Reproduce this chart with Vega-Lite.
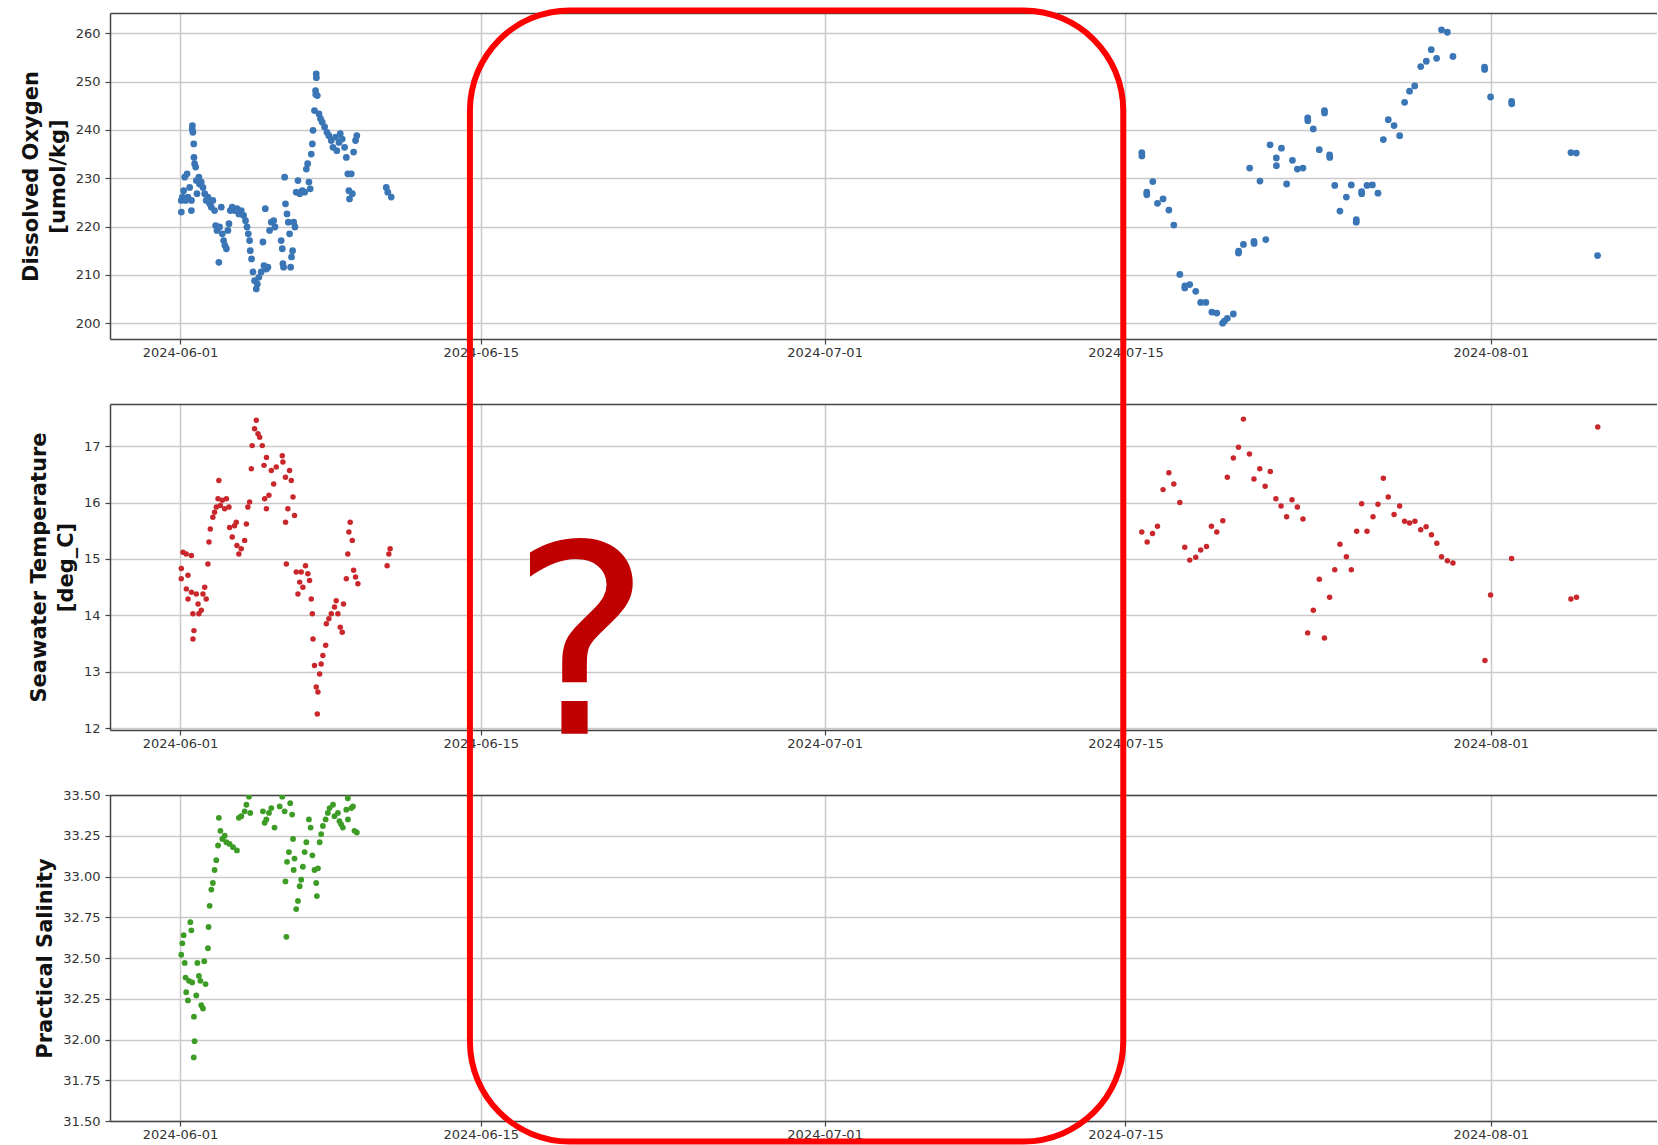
{
  "$schema": "https://vega.github.io/schema/vega-lite/v6.json",
  "background": "white",
  "padding": {"left": 20, "top": 7, "right": 0, "bottom": 0},
  "bounds": "flush",
  "spacing": 65,
  "config": {
    "font": "DejaVu Sans",
    "view": {"stroke": null},
    "axis": {
      "labelFont": "DejaVu Sans", "labelFontSize": 13, "labelColor": "#333333",
      "titleFont": "DejaVu Sans", "titleFontSize": 21, "titleFontWeight": "bold", "titleColor": "#111111",
      "gridColor": "#c9c9c9", "gridWidth": 1.5,
      "domainColor": "#444444", "domainWidth": 1.5,
      "tickColor": "#444444", "tickWidth": 1.2, "tickSize": 5
    },
    "axisX": {"labelPadding": 2, "labelFlush": false, "labelOverlap": false},
    "axisY": {"labelPadding": 5, "titlePadding": 7, "titleLineHeight": 27, "labelOverlap": false}
  },
  "datasets": {
    "oxygen": [
      {"t":"2024-06-01T01:26","v":225.4},{"t":"2024-06-01T01:30","v":223.0},{"t":"2024-06-01T02:38","v":226.1},{"t":"2024-06-01T04:05","v":227.4},
      {"t":"2024-06-01T05:17","v":230.2},{"t":"2024-06-01T06:14","v":225.4},{"t":"2024-06-01T07:55","v":230.9},{"t":"2024-06-01T08:53","v":226.1},
      {"t":"2024-06-01T10:48","v":228.1},{"t":"2024-06-01T12:43","v":223.3},{"t":"2024-06-01T12:50","v":225.4},{"t":"2024-06-01T13:41","v":240.2},
      {"t":"2024-06-01T13:50","v":240.9},{"t":"2024-06-01T14:24","v":239.5},{"t":"2024-06-01T15:22","v":237.1},{"t":"2024-06-01T15:36","v":234.3},
      {"t":"2024-06-01T16:19","v":233.0},{"t":"2024-06-01T17:31","v":232.3},{"t":"2024-06-01T18:14","v":229.5},{"t":"2024-06-01T18:58","v":226.8},
      {"t":"2024-06-01T21:07","v":230.2},{"t":"2024-06-01T21:50","v":228.8},{"t":"2024-06-01T23:46","v":229.2},{"t":"2024-06-02T01:41","v":228.1},
      {"t":"2024-06-02T03:36","v":226.8},{"t":"2024-06-02T05:17","v":225.4},{"t":"2024-06-02T07:12","v":226.1},{"t":"2024-06-02T09:07","v":224.7},
      {"t":"2024-06-02T11:02","v":224.0},{"t":"2024-06-02T12:43","v":225.4},{"t":"2024-06-02T14:38","v":223.3},{"t":"2024-06-02T15:50","v":220.2},
      {"t":"2024-06-02T17:17","v":219.2},{"t":"2024-06-02T19:26","v":212.6},{"t":"2024-06-02T20:10","v":219.9},{"t":"2024-06-02T22:05","v":224.0},
      {"t":"2024-06-02T23:17","v":218.5},{"t":"2024-06-03T00:43","v":217.1},{"t":"2024-06-03T02:10","v":216.1},{"t":"2024-06-03T03:50","v":215.4},
      {"t":"2024-06-03T05:31","v":219.2},{"t":"2024-06-03T06:43","v":220.6},{"t":"2024-06-03T08:10","v":223.3},{"t":"2024-06-03T10:19","v":224.0},
      {"t":"2024-06-03T12:58","v":223.3},{"t":"2024-06-03T15:36","v":223.7},{"t":"2024-06-03T17:46","v":222.6},{"t":"2024-06-03T20:24","v":223.3},
      {"t":"2024-06-03T23:02","v":222.3},{"t":"2024-06-04T01:12","v":221.2},{"t":"2024-06-04T02:53","v":219.9},{"t":"2024-06-04T04:19","v":218.5},
      {"t":"2024-06-04T05:46","v":217.1},{"t":"2024-06-04T06:29","v":215.0},{"t":"2024-06-04T07:55","v":213.3},{"t":"2024-06-04T09:36","v":210.6},
      {"t":"2024-06-04T11:17","v":208.8},{"t":"2024-06-04T13:12","v":207.1},{"t":"2024-06-04T14:24","v":208.1},{"t":"2024-06-04T16:05","v":209.5},
      {"t":"2024-06-04T18:43","v":210.6},{"t":"2024-06-04T20:38","v":216.8},{"t":"2024-06-04T21:50","v":211.9},{"t":"2024-06-04T23:17","v":223.7},
      {"t":"2024-06-05T00:29","v":211.2},{"t":"2024-06-05T02:10","v":211.6},{"t":"2024-06-05T04:05","v":219.2},{"t":"2024-06-05T06:00","v":220.9},
      {"t":"2024-06-05T08:38","v":221.2},{"t":"2024-06-05T10:05","v":219.9},{"t":"2024-06-05T17:02","v":217.1},{"t":"2024-06-05T18:14","v":215.4},
      {"t":"2024-06-05T18:58","v":212.3},{"t":"2024-06-05T19:41","v":211.6},{"t":"2024-06-05T20:53","v":230.2},{"t":"2024-06-05T21:50","v":224.7},
      {"t":"2024-06-05T23:31","v":222.6},{"t":"2024-06-06T00:58","v":220.9},{"t":"2024-06-06T02:24","v":218.5},{"t":"2024-06-06T03:36","v":211.6},
      {"t":"2024-06-06T04:34","v":213.7},{"t":"2024-06-06T05:46","v":215.0},{"t":"2024-06-06T06:58","v":220.9},{"t":"2024-06-06T08:24","v":219.9},
      {"t":"2024-06-06T09:50","v":227.1},{"t":"2024-06-06T11:46","v":229.5},{"t":"2024-06-06T13:41","v":226.8},{"t":"2024-06-06T16:34","v":227.4},
      {"t":"2024-06-06T19:12","v":227.1},{"t":"2024-06-06T21:07","v":231.9},{"t":"2024-06-06T22:34","v":233.0},{"t":"2024-06-07T00:00","v":229.2},
      {"t":"2024-06-07T01:26","v":227.8},{"t":"2024-06-07T02:38","v":235.0},{"t":"2024-06-07T03:50","v":237.1},{"t":"2024-06-07T04:34","v":239.9},
      {"t":"2024-06-07T06:14","v":244.0},{"t":"2024-06-07T07:26","v":248.1},{"t":"2024-06-07T07:40","v":247.3},{"t":"2024-06-07T08:10","v":251.6},
      {"t":"2024-06-07T08:20","v":250.8},{"t":"2024-06-07T09:22","v":247.1},{"t":"2024-06-07T11:17","v":243.3},{"t":"2024-06-07T12:58","v":242.3},
      {"t":"2024-06-07T14:53","v":241.6},{"t":"2024-06-07T17:31","v":240.6},{"t":"2024-06-07T20:10","v":239.5},{"t":"2024-06-07T22:19","v":238.8},
      {"t":"2024-06-08T00:58","v":237.8},{"t":"2024-06-08T02:53","v":236.4},{"t":"2024-06-08T05:46","v":238.5},{"t":"2024-06-08T07:12","v":235.7},
      {"t":"2024-06-08T09:36","v":237.4},{"t":"2024-06-08T11:02","v":239.2},{"t":"2024-06-08T13:12","v":238.1},{"t":"2024-06-08T15:50","v":236.4},
      {"t":"2024-06-08T17:46","v":234.3},{"t":"2024-06-08T19:26","v":230.9},{"t":"2024-06-08T20:38","v":227.4},{"t":"2024-06-08T21:22","v":225.7},
      {"t":"2024-06-08T23:17","v":230.9},{"t":"2024-06-09T00:29","v":226.8},{"t":"2024-06-09T01:55","v":235.4},{"t":"2024-06-09T04:05","v":237.8},
      {"t":"2024-06-09T05:31","v":238.8},{"t":"2024-06-10T14:24","v":228.1},{"t":"2024-06-10T16:05","v":227.1},{"t":"2024-06-10T19:55","v":226.1},
      {"t":"2024-07-15T18:14","v":235.3},{"t":"2024-07-15T18:20","v":234.6},{"t":"2024-07-15T23:46","v":227.1},{"t":"2024-07-15T23:50","v":226.6},
      {"t":"2024-07-16T06:29","v":229.3},{"t":"2024-07-16T11:46","v":224.8},{"t":"2024-07-16T18:00","v":225.7},{"t":"2024-07-17T00:29","v":223.4},
      {"t":"2024-07-17T06:00","v":220.3},{"t":"2024-07-17T12:43","v":210.1},{"t":"2024-07-17T18:14","v":207.3},{"t":"2024-07-17T18:20","v":207.7},
      {"t":"2024-07-17T23:46","v":208.0},{"t":"2024-07-18T06:29","v":206.6},{"t":"2024-07-18T12:00","v":204.3},{"t":"2024-07-18T17:46","v":204.3},
      {"t":"2024-07-19T00:29","v":202.3},{"t":"2024-07-19T06:00","v":202.1},{"t":"2024-07-19T12:29","v":200.0},{"t":"2024-07-19T14:24","v":200.4},
      {"t":"2024-07-19T17:46","v":201.0},{"t":"2024-07-20T00:29","v":201.9},{"t":"2024-07-20T06:14","v":214.5},{"t":"2024-07-20T06:20","v":214.9},
      {"t":"2024-07-20T11:46","v":216.3},{"t":"2024-07-20T18:43","v":232.1},{"t":"2024-07-20T23:31","v":216.9},{"t":"2024-07-20T23:40","v":216.5},
      {"t":"2024-07-21T06:14","v":229.4},{"t":"2024-07-21T12:43","v":217.3},{"t":"2024-07-21T17:31","v":236.9},{"t":"2024-07-22T00:29","v":234.2},
      {"t":"2024-07-22T00:35","v":232.6},{"t":"2024-07-22T06:14","v":236.2},{"t":"2024-07-22T12:00","v":228.8},{"t":"2024-07-22T18:29","v":233.7},
      {"t":"2024-07-23T00:00","v":231.9},{"t":"2024-07-23T06:14","v":232.1},{"t":"2024-07-23T11:31","v":242.5},{"t":"2024-07-23T11:40","v":241.9},
      {"t":"2024-07-23T17:46","v":240.2},{"t":"2024-07-24T00:29","v":235.9},{"t":"2024-07-24T06:14","v":244.0},{"t":"2024-07-24T06:20","v":243.5},
      {"t":"2024-07-24T12:00","v":234.8},{"t":"2024-07-24T12:10","v":234.3},{"t":"2024-07-24T17:46","v":228.5},{"t":"2024-07-24T23:31","v":223.2},
      {"t":"2024-07-25T06:43","v":226.1},{"t":"2024-07-25T12:14","v":228.6},{"t":"2024-07-25T17:46","v":220.9},{"t":"2024-07-25T17:50","v":221.4},
      {"t":"2024-07-25T23:46","v":227.2},{"t":"2024-07-25T23:50","v":226.8},{"t":"2024-07-26T05:46","v":228.5},{"t":"2024-07-26T11:46","v":228.6},
      {"t":"2024-07-26T18:00","v":226.9},{"t":"2024-07-27T00:00","v":238.0},{"t":"2024-07-27T05:31","v":242.1},{"t":"2024-07-27T12:00","v":240.9},
      {"t":"2024-07-27T18:14","v":238.8},{"t":"2024-07-27T23:46","v":245.7},{"t":"2024-07-28T05:17","v":248.0},{"t":"2024-07-28T11:02","v":249.1},
      {"t":"2024-07-28T17:46","v":253.1},{"t":"2024-07-29T00:00","v":254.2},{"t":"2024-07-29T05:31","v":256.6},{"t":"2024-07-29T11:31","v":254.8},
      {"t":"2024-07-29T17:02","v":260.7},{"t":"2024-07-29T23:31","v":260.2},{"t":"2024-07-30T05:46","v":255.2},{"t":"2024-07-31T17:02","v":253.0},
      {"t":"2024-07-31T17:10","v":252.5},{"t":"2024-07-31T23:46","v":246.8},{"t":"2024-08-01T23:17","v":245.9},{"t":"2024-08-01T23:25","v":245.4},
      {"t":"2024-08-04T17:31","v":235.3},{"t":"2024-08-04T23:31","v":235.2},{"t":"2024-08-05T23:17","v":214.0}
    ],
    "temperature": [
      {"t":"2024-06-01T01:26","v":14.65},{"t":"2024-06-01T01:30","v":14.83},{"t":"2024-06-01T03:22","v":15.12},{"t":"2024-06-01T06:58","v":15.09},
      {"t":"2024-06-01T08:53","v":14.71},{"t":"2024-06-01T07:05","v":14.47},{"t":"2024-06-01T09:00","v":14.29},{"t":"2024-06-01T12:43","v":15.06},
      {"t":"2024-06-01T12:50","v":14.41},{"t":"2024-06-01T14:24","v":14.03},{"t":"2024-06-01T15:36","v":13.73},{"t":"2024-06-01T14:30","v":13.58},
      {"t":"2024-06-01T18:14","v":14.38},{"t":"2024-06-01T20:10","v":14.20},{"t":"2024-06-01T21:07","v":14.03},{"t":"2024-06-01T23:46","v":14.09},
      {"t":"2024-06-02T01:41","v":14.38},{"t":"2024-06-02T03:36","v":14.50},{"t":"2024-06-02T05:17","v":14.29},{"t":"2024-06-02T07:12","v":14.91},
      {"t":"2024-06-02T08:24","v":15.30},{"t":"2024-06-02T09:50","v":15.53},{"t":"2024-06-02T12:43","v":15.74},{"t":"2024-06-02T14:38","v":15.83},
      {"t":"2024-06-02T16:34","v":15.92},{"t":"2024-06-02T18:29","v":16.07},{"t":"2024-06-02T19:26","v":16.39},{"t":"2024-06-02T21:07","v":15.95},
      {"t":"2024-06-02T23:17","v":16.04},{"t":"2024-06-03T01:55","v":15.89},{"t":"2024-06-03T03:50","v":16.07},{"t":"2024-06-03T06:43","v":15.92},
      {"t":"2024-06-03T07:26","v":15.56},{"t":"2024-06-03T10:19","v":15.39},{"t":"2024-06-03T12:58","v":15.59},{"t":"2024-06-03T14:53","v":15.65},
      {"t":"2024-06-03T15:36","v":15.24},{"t":"2024-06-03T17:46","v":15.09},{"t":"2024-06-03T20:24","v":15.18},{"t":"2024-06-04T00:14","v":15.33},
      {"t":"2024-06-04T02:10","v":15.62},{"t":"2024-06-04T03:50","v":15.92},{"t":"2024-06-04T05:46","v":16.01},{"t":"2024-06-04T07:41","v":16.60},
      {"t":"2024-06-04T08:38","v":17.01},{"t":"2024-06-04T11:17","v":17.31},{"t":"2024-06-04T13:12","v":17.46},{"t":"2024-06-04T15:07","v":17.22},
      {"t":"2024-06-04T17:02","v":17.16},{"t":"2024-06-04T19:55","v":17.01},{"t":"2024-06-04T21:50","v":16.66},{"t":"2024-06-04T22:34","v":16.07},
      {"t":"2024-06-05T00:29","v":15.89},{"t":"2024-06-05T00:35","v":16.80},{"t":"2024-06-05T03:22","v":16.13},{"t":"2024-06-05T06:00","v":16.57},
      {"t":"2024-06-05T08:38","v":16.33},{"t":"2024-06-05T11:31","v":16.63},{"t":"2024-06-05T18:14","v":16.83},{"t":"2024-06-05T18:58","v":16.72},
      {"t":"2024-06-05T21:50","v":16.45},{"t":"2024-06-05T21:55","v":15.65},{"t":"2024-06-05T22:48","v":14.91},{"t":"2024-06-06T00:29","v":15.89},
      {"t":"2024-06-06T02:24","v":16.57},{"t":"2024-06-06T04:19","v":16.39},{"t":"2024-06-06T06:14","v":16.10},{"t":"2024-06-06T07:55","v":15.77},
      {"t":"2024-06-06T09:50","v":14.77},{"t":"2024-06-06T11:46","v":14.38},{"t":"2024-06-06T13:41","v":14.59},{"t":"2024-06-06T15:22","v":14.77},
      {"t":"2024-06-06T17:17","v":14.50},{"t":"2024-06-06T20:10","v":14.88},{"t":"2024-06-06T22:48","v":14.74},{"t":"2024-06-07T00:43","v":14.62},
      {"t":"2024-06-07T02:38","v":14.29},{"t":"2024-06-07T03:50","v":14.03},{"t":"2024-06-07T04:34","v":13.58},{"t":"2024-06-07T06:14","v":13.11},
      {"t":"2024-06-07T08:10","v":12.73},{"t":"2024-06-07T09:22","v":12.25},{"t":"2024-06-07T10:05","v":12.64},{"t":"2024-06-07T12:00","v":12.96},
      {"t":"2024-06-07T13:41","v":13.14},{"t":"2024-06-07T15:36","v":13.29},{"t":"2024-06-07T18:43","v":13.47},{"t":"2024-06-07T19:26","v":13.85},
      {"t":"2024-06-07T22:19","v":13.94},{"t":"2024-06-08T00:58","v":14.03},{"t":"2024-06-08T04:34","v":14.15},{"t":"2024-06-08T06:29","v":14.26},
      {"t":"2024-06-08T08:24","v":14.03},{"t":"2024-06-08T11:02","v":13.79},{"t":"2024-06-08T13:12","v":13.70},{"t":"2024-06-08T14:38","v":14.20},
      {"t":"2024-06-08T17:46","v":14.65},{"t":"2024-06-08T19:26","v":15.09},{"t":"2024-06-08T20:38","v":15.48},{"t":"2024-06-08T22:05","v":15.65},
      {"t":"2024-06-09T00:29","v":15.33},{"t":"2024-06-09T01:55","v":14.80},{"t":"2024-06-09T04:05","v":14.68},{"t":"2024-06-09T06:43","v":14.56},
      {"t":"2024-06-10T15:22","v":14.88},{"t":"2024-06-10T17:17","v":15.09},{"t":"2024-06-10T18:43","v":15.18},
      {"t":"2024-07-15T18:14","v":15.48},{"t":"2024-07-16T00:14","v":15.30},{"t":"2024-07-16T06:14","v":15.45},{"t":"2024-07-16T11:46","v":15.58},
      {"t":"2024-07-16T18:00","v":16.23},{"t":"2024-07-17T00:29","v":16.53},{"t":"2024-07-17T06:00","v":16.33},{"t":"2024-07-17T12:43","v":16.00},
      {"t":"2024-07-17T18:14","v":15.21},{"t":"2024-07-17T23:46","v":14.98},{"t":"2024-07-18T06:29","v":15.03},{"t":"2024-07-18T12:00","v":15.16},
      {"t":"2024-07-18T18:29","v":15.22},{"t":"2024-07-19T00:00","v":15.58},{"t":"2024-07-19T06:00","v":15.48},{"t":"2024-07-19T12:43","v":15.68},
      {"t":"2024-07-19T17:46","v":16.45},{"t":"2024-07-20T00:29","v":16.79},{"t":"2024-07-20T06:14","v":16.98},{"t":"2024-07-20T11:46","v":17.48},
      {"t":"2024-07-20T18:29","v":16.86},{"t":"2024-07-20T23:31","v":16.42},{"t":"2024-07-21T06:00","v":16.60},{"t":"2024-07-21T12:00","v":16.29},
      {"t":"2024-07-21T17:46","v":16.55},{"t":"2024-07-22T00:00","v":16.07},{"t":"2024-07-22T05:46","v":15.94},{"t":"2024-07-22T12:00","v":15.75},
      {"t":"2024-07-22T18:00","v":16.05},{"t":"2024-07-23T00:00","v":15.92},{"t":"2024-07-23T06:14","v":15.71},{"t":"2024-07-23T11:31","v":13.69},
      {"t":"2024-07-23T17:46","v":14.09},{"t":"2024-07-24T00:29","v":14.64},{"t":"2024-07-24T06:14","v":13.60},{"t":"2024-07-24T12:00","v":14.32},
      {"t":"2024-07-24T17:46","v":14.81},{"t":"2024-07-24T23:31","v":15.26},{"t":"2024-07-25T06:43","v":15.04},{"t":"2024-07-25T12:14","v":14.81},
      {"t":"2024-07-25T18:14","v":15.49},{"t":"2024-07-25T23:46","v":15.98},{"t":"2024-07-26T05:46","v":15.49},{"t":"2024-07-26T12:29","v":15.75},
      {"t":"2024-07-26T18:00","v":15.97},{"t":"2024-07-27T00:00","v":16.43},{"t":"2024-07-27T05:31","v":16.10},{"t":"2024-07-27T12:00","v":15.79},
      {"t":"2024-07-27T18:14","v":15.94},{"t":"2024-07-27T23:46","v":15.67},{"t":"2024-07-28T05:17","v":15.64},{"t":"2024-07-28T11:17","v":15.67},
      {"t":"2024-07-28T17:46","v":15.52},{"t":"2024-07-28T23:46","v":15.57},{"t":"2024-07-29T05:46","v":15.43},{"t":"2024-07-29T11:46","v":15.28},
      {"t":"2024-07-29T17:02","v":15.04},{"t":"2024-07-29T23:31","v":14.97},{"t":"2024-07-30T05:46","v":14.93},{"t":"2024-07-31T17:31","v":13.20},
      {"t":"2024-07-31T23:46","v":14.36},{"t":"2024-08-01T23:17","v":15.01},{"t":"2024-08-04T17:31","v":14.29},{"t":"2024-08-04T23:46","v":14.32},
      {"t":"2024-08-05T23:31","v":17.34}
    ],
    "salinity": [
      {"t":"2024-06-01T01:26","v":32.52},{"t":"2024-06-01T02:38","v":32.59},{"t":"2024-06-01T04:05","v":32.64},{"t":"2024-06-01T05:17","v":32.47},
      {"t":"2024-06-01T06:14","v":32.38},{"t":"2024-06-01T06:58","v":32.29},{"t":"2024-06-01T08:53","v":32.24},{"t":"2024-06-01T10:05","v":32.36},
      {"t":"2024-06-01T11:31","v":32.72},{"t":"2024-06-01T12:43","v":32.67},{"t":"2024-06-01T13:41","v":32.35},{"t":"2024-06-01T15:36","v":32.14},
      {"t":"2024-06-01T16:19","v":31.99},{"t":"2024-06-01T15:22","v":31.89},{"t":"2024-06-01T18:14","v":32.27},{"t":"2024-06-01T19:26","v":32.47},
      {"t":"2024-06-01T21:07","v":32.39},{"t":"2024-06-01T22:48","v":32.36},{"t":"2024-06-01T23:46","v":32.21},{"t":"2024-06-02T01:41","v":32.19},
      {"t":"2024-06-02T03:07","v":32.48},{"t":"2024-06-02T04:34","v":32.34},{"t":"2024-06-02T07:12","v":32.56},{"t":"2024-06-02T07:55","v":32.69},
      {"t":"2024-06-02T09:07","v":32.82},{"t":"2024-06-02T11:02","v":32.92},{"t":"2024-06-02T12:43","v":32.96},{"t":"2024-06-02T14:38","v":33.04},
      {"t":"2024-06-02T16:34","v":33.10},{"t":"2024-06-02T18:29","v":33.19},{"t":"2024-06-02T19:26","v":33.36},{"t":"2024-06-02T21:07","v":33.28},
      {"t":"2024-06-02T23:17","v":33.23},{"t":"2024-06-03T01:55","v":33.25},{"t":"2024-06-03T03:50","v":33.21},{"t":"2024-06-03T07:26","v":33.20},
      {"t":"2024-06-03T11:17","v":33.18},{"t":"2024-06-03T15:36","v":33.16},{"t":"2024-06-03T17:46","v":33.36},{"t":"2024-06-03T20:24","v":33.37},
      {"t":"2024-06-04T00:14","v":33.40},{"t":"2024-06-04T02:10","v":33.44},{"t":"2024-06-04T05:02","v":33.49},{"t":"2024-06-04T06:29","v":33.39},
      {"t":"2024-06-04T20:38","v":33.40},{"t":"2024-06-04T22:34","v":33.33},{"t":"2024-06-05T00:29","v":33.35},{"t":"2024-06-05T03:22","v":33.39},
      {"t":"2024-06-05T06:00","v":33.42},{"t":"2024-06-05T09:36","v":33.30},{"t":"2024-06-05T15:22","v":33.43},{"t":"2024-06-05T18:14","v":33.49},
      {"t":"2024-06-05T20:53","v":33.40},{"t":"2024-06-05T21:50","v":32.97},{"t":"2024-06-05T22:48","v":32.63},{"t":"2024-06-05T23:31","v":33.09},
      {"t":"2024-06-06T01:41","v":33.15},{"t":"2024-06-06T03:07","v":33.45},{"t":"2024-06-06T05:17","v":33.38},{"t":"2024-06-06T06:14","v":33.23},
      {"t":"2024-06-06T06:58","v":33.04},{"t":"2024-06-06T07:55","v":33.11},{"t":"2024-06-06T09:50","v":32.80},{"t":"2024-06-06T11:46","v":32.85},
      {"t":"2024-06-06T13:41","v":32.94},{"t":"2024-06-06T15:22","v":32.98},{"t":"2024-06-06T17:17","v":33.06},{"t":"2024-06-06T19:12","v":33.15},
      {"t":"2024-06-06T21:07","v":33.21},{"t":"2024-06-07T00:00","v":33.35},{"t":"2024-06-07T01:55","v":33.30},{"t":"2024-06-07T03:50","v":33.13},
      {"t":"2024-06-07T06:14","v":33.04},{"t":"2024-06-07T08:10","v":32.96},{"t":"2024-06-07T08:53","v":32.88},{"t":"2024-06-07T10:05","v":33.05},
      {"t":"2024-06-07T12:00","v":33.21},{"t":"2024-06-07T13:41","v":33.26},{"t":"2024-06-07T15:36","v":33.31},{"t":"2024-06-07T18:43","v":33.35},
      {"t":"2024-06-07T21:07","v":33.39},{"t":"2024-06-07T23:02","v":33.42},{"t":"2024-06-08T02:53","v":33.44},{"t":"2024-06-08T04:34","v":33.37},
      {"t":"2024-06-08T08:24","v":33.39},{"t":"2024-06-08T10:05","v":33.34},{"t":"2024-06-08T12:00","v":33.32},{"t":"2024-06-08T13:55","v":33.30},
      {"t":"2024-06-08T17:46","v":33.41},{"t":"2024-06-08T19:26","v":33.48},{"t":"2024-06-08T19:35","v":33.35},{"t":"2024-06-08T23:17","v":33.42},
      {"t":"2024-06-09T01:12","v":33.43},{"t":"2024-06-09T02:53","v":33.28},{"t":"2024-06-09T05:31","v":33.27}
    ],
    "marker": [
      {"t":"2024-06-19T16:00","v":11.9,"label":"?"}
    ],
    "gap": [
      {"start":"2024-06-14T11:50","end":"2024-07-14T21:33","top":38.313,"bottom":31.374}
    ]
  },
  "vconcat": [
    {
      "width": 1547, "height": 326,
      "data": {"name": "oxygen"},
      "layer": [
        {
          "mark": {"type": "circle", "size": 46, "color": "#3a76b6", "opacity": 1, "clip": true},
          "encoding": {
            "x": {"field": "t", "type": "temporal",
              "scale": {"domain": [{"year":2024,"month":5,"date":28,"hours":17,"minutes":50},{"year":2024,"month":8,"date":8,"hours":17,"minutes":40}], "nice": false},
              "axis": {"title": null, "format": "%Y-%m-%d", "grid": true,
                "values": [{"year":2024,"month":6,"date":1},{"year":2024,"month":6,"date":15},{"year":2024,"month":7,"date":1},{"year":2024,"month":7,"date":15},{"year":2024,"month":8,"date":1}]}},
            "y": {"field": "v", "type": "quantitative",
              "scale": {"domain": [196.73, 264.18], "zero": false, "nice": false},
              "axis": {"title": ["Dissolved Oxygen", "[umol/kg]"], "format": "d", "values": [200, 210, 220, 230, 240, 250, 260]}}
          }
        },
        {
          "mark": {"type": "point", "opacity": 0},
          "encoding": {
            "x": {"field": "t", "type": "temporal", "axis": {"orient": "top", "labels": false, "ticks": false, "grid": false, "title": null, "domain": true}}
          }
        }
      ],
      "resolve": {"axis": {"x": "independent"}}
    },
    {
      "width": 1547, "height": 326,
      "data": {"name": "temperature"},
      "layer": [
        {
          "mark": {"type": "circle", "size": 30, "color": "#c9272b", "opacity": 1, "clip": true},
          "encoding": {
            "x": {"field": "t", "type": "temporal",
              "scale": {"domain": [{"year":2024,"month":5,"date":28,"hours":17,"minutes":50},{"year":2024,"month":8,"date":8,"hours":17,"minutes":40}], "nice": false},
              "axis": {"title": null, "format": "%Y-%m-%d", "grid": true,
                "values": [{"year":2024,"month":6,"date":1},{"year":2024,"month":6,"date":15},{"year":2024,"month":7,"date":1},{"year":2024,"month":7,"date":15},{"year":2024,"month":8,"date":1}]}},
            "y": {"field": "v", "type": "quantitative",
              "scale": {"domain": [11.968, 17.748], "zero": false, "nice": false},
              "axis": {"title": ["Seawater Temperature", "[deg_C]"], "format": "d", "values": [12, 13, 14, 15, 16, 17]}}
          }
        },
        {
          "mark": {"type": "point", "opacity": 0},
          "encoding": {
            "x": {"field": "t", "type": "temporal", "axis": {"orient": "top", "labels": false, "ticks": false, "grid": false, "title": null, "domain": true}}
          }
        },
        {
          "data": {"name": "marker"},
          "mark": {"type": "text", "font": "DejaVu Sans", "fontSize": 264, "color": "#c00000", "align": "center", "baseline": "alphabetic", "clip": false},
          "encoding": {
            "x": {"field": "t", "type": "temporal", "axis": null},
            "y": {"field": "v", "type": "quantitative"},
            "text": {"field": "label"}
          }
        }
      ],
      "resolve": {"axis": {"x": "independent"}}
    },
    {
      "width": 1547, "height": 326,
      "data": {"name": "salinity"},
      "layer": [
        {
          "mark": {"type": "circle", "size": 34, "color": "#3c9c26", "opacity": 1, "clip": true},
          "encoding": {
            "x": {"field": "t", "type": "temporal",
              "scale": {"domain": [{"year":2024,"month":5,"date":28,"hours":17,"minutes":50},{"year":2024,"month":8,"date":8,"hours":17,"minutes":40}], "nice": false},
              "axis": {"title": null, "format": "%Y-%m-%d", "grid": true,
                "values": [{"year":2024,"month":6,"date":1},{"year":2024,"month":6,"date":15},{"year":2024,"month":7,"date":1},{"year":2024,"month":7,"date":15},{"year":2024,"month":8,"date":1}]}},
            "y": {"field": "v", "type": "quantitative",
              "scale": {"domain": [31.5, 33.5], "zero": false, "nice": false},
              "axis": {"title": "Practical Salinity", "format": ".2f", "values": [31.5, 31.75, 32.0, 32.25, 32.5, 32.75, 33.0, 33.25, 33.5]}}
          }
        },
        {
          "mark": {"type": "point", "opacity": 0},
          "encoding": {
            "x": {"field": "t", "type": "temporal", "axis": {"orient": "top", "labels": false, "ticks": false, "grid": false, "title": null, "domain": true}}
          }
        },
        {
          "data": {"name": "gap"},
          "mark": {"type": "rect", "filled": false, "stroke": "#ff0000", "strokeWidth": 6, "cornerRadius": 100, "clip": false},
          "encoding": {
            "x": {"field": "start", "type": "temporal", "axis": null},
            "x2": {"field": "end"},
            "y": {"field": "top", "type": "quantitative"},
            "y2": {"field": "bottom"}
          }
        }
      ],
      "resolve": {"axis": {"x": "independent"}}
    }
  ]
}
